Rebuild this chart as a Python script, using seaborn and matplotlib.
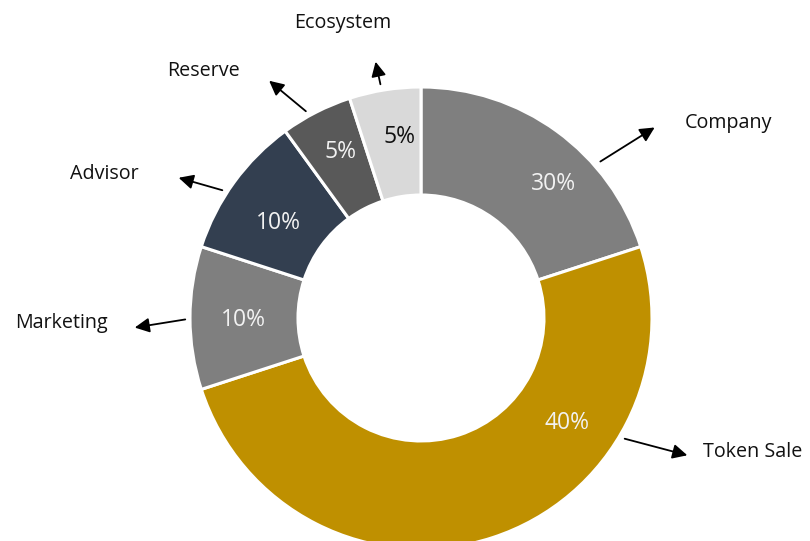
import matplotlib
matplotlib.use("Agg")
import matplotlib.pyplot as plt
import seaborn as sns

# token allocation (wedge sizes as drawn, labels as printed)
categories = ["Company", "Token Sale", "Marketing", "Advisor", "Reserve", "Ecosystem"]
shares = [20, 50, 10, 10, 5, 5]
pct_labels = ["30%", "40%", "10%", "10%", "5%", "5%"]
colors = ["#7f7f7f", "#bf9000", "#7f7f7f", "#333f50", "#595959", "#d9d9d9"]
pct_colors = ["#f2f2f2", "#f2f2f2", "#f2f2f2", "#f2f2f2", "#f2f2f2", "#111111"]

sns.set_theme(style="white")
plt.rcParams["font.family"] = ["Open Sans", "DejaVu Sans"]

W, H = 810, 541
CX, CY, R = 421, 318, 231


def px(x, y):
    # pixel position -> data coords (pie radius = 1)
    return (x - CX) / R, (CY - y) / R


# layout: percent label centers, category label centers, arrow tail/head (pixels)
pct_pos = [(553, 184), (567, 423), (243, 320), (278, 223), (340, 152), (399, 137)]
name_pos = [(728, 123), (753, 452), (61, 323), (104, 174), (203, 71), (343, 23)]
arrows = [((598, 163), (657, 126)), ((622, 438), (690, 456)), ((188, 319), (132, 328)),
          ((225, 191), (176, 177)), ((308, 113), (267, 79)), ((381, 87), (375, 59))]

fig = plt.figure(figsize=(W / 100, H / 100), dpi=100)
ax = fig.add_axes([0, 0, 1, 1])
ax.pie(shares, colors=colors, startangle=90, counterclock=False, radius=1,
       wedgeprops=dict(width=1 - 123 / R, edgecolor="white", linewidth=2.2))
ax.set_xlim(-CX / R, (W - CX) / R)
ax.set_ylim(-(H - CY) / R, CY / R)
ax.set_aspect("equal")
ax.axis("off")

for lab, c, p in zip(pct_labels, pct_colors, pct_pos):
    ax.text(*px(*p), lab, color=c, fontsize=16.5, ha="center", va="center")

for name, p in zip(categories, name_pos):
    ax.text(*px(*p), name, color="#111111", fontsize=14.2, ha="center", va="center")

for (t, h) in arrows:
    ax.annotate("", xy=px(*h), xytext=px(*t),
                arrowprops=dict(arrowstyle="-|>", mutation_scale=22, lw=1.3, color="black"))

fig.savefig("out.png", dpi=100)
